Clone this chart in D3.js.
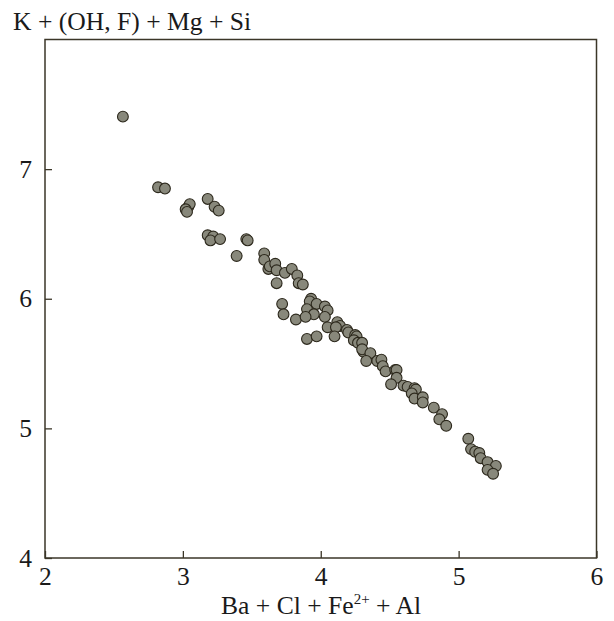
<!DOCTYPE html>
<html>
<head>
<meta charset="utf-8">
<script src="https://cdn.jsdelivr.net/npm/d3@7"></script>
<style>
  html, body { margin: 0; padding: 0; background: #fff; }
  svg, svg text { font-family: "Liberation Serif", Tinos, "Times New Roman", Times, "Nimbus Roman", FreeSerif, serif !important; }
</style>
</head>
<body>
<svg id="chart" width="614" height="621"></svg>
<script>
// Ba + Cl + Fe2+ + Al (x) against K + (OH, F) + Mg + Si (y), one entry per analysis
const sumBaClFeAl = [
  2.565, 2.82, 2.87, 3.04, 3.05, 3.02, 3.03, 3.18, 3.23, 3.26,
  3.18, 3.22, 3.20, 3.27, 3.46, 3.47, 3.39,
  3.59, 3.59, 3.62, 3.63, 3.67, 3.68, 3.74, 3.79, 3.83, 3.68, 3.84, 3.87,
  3.72, 3.73, 3.82,
  3.93, 3.92, 3.97, 3.90, 3.95, 3.89, 4.03, 4.05, 4.03, 4.12, 4.05, 4.14, 4.11, 4.19, 4.20, 4.10, 3.90, 3.97,
  4.25, 4.26, 4.24, 4.27, 4.30, 4.31, 4.30, 4.36, 4.33, 4.41, 4.44, 4.45, 4.47, 4.54, 4.55,
  4.55, 4.51, 4.60, 4.63, 4.68, 4.69, 4.66, 4.68, 4.74, 4.74, 4.82, 4.88, 4.86, 4.91,
  5.07, 5.09, 5.12, 5.15, 5.16, 5.21, 5.27, 5.21, 5.25
];
const sumKOHFMgSi = [
  7.405, 6.86, 6.85, 6.71, 6.73, 6.69, 6.67, 6.77, 6.71, 6.68,
  6.49, 6.48, 6.45, 6.46, 6.46, 6.45, 6.33,
  6.35, 6.30, 6.23, 6.25, 6.27, 6.22, 6.20, 6.23, 6.18, 6.12, 6.12, 6.11,
  5.96, 5.88, 5.84,
  6.00, 5.98, 5.96, 5.92, 5.88, 5.86, 5.94, 5.91, 5.86, 5.82, 5.78, 5.79, 5.78, 5.76, 5.74, 5.71, 5.69, 5.71,
  5.72, 5.71, 5.68, 5.66, 5.66, 5.59, 5.61, 5.58, 5.52, 5.52, 5.53, 5.48, 5.44, 5.45, 5.45,
  5.39, 5.34, 5.33, 5.32, 5.31, 5.30, 5.27, 5.23, 5.24, 5.20, 5.16, 5.11, 5.07, 5.02,
  4.92, 4.84, 4.82, 4.81, 4.77, 4.74, 4.71, 4.68, 4.65
];
const xTickValues = [2, 3, 4, 5, 6];
const yTickValues = [4, 5, 6, 7];

const points = sumBaClFeAl.map((x, i) => ({ x, y: sumKOHFMgSi[i] }));

const serif = '"Liberation Serif", Tinos, "Times New Roman", Times, serif';
const svg = d3.select("#chart").attr("font-family", serif);
const frame = { left: 45, right: 596.5, top: 39.5, bottom: 558 };
const axisColor = "#3b3628";
const textColor = "#1a1a1a";
const fontSize = 25.6;

const x = d3.scaleLinear().domain([2, 6]).range([frame.left, frame.right]);
const y = d3.scaleLinear().domain([4, 8]).range([frame.bottom, frame.top]);

// points first, frame and ticks on top
svg.append("g")
  .selectAll("circle")
  .data(points)
  .join("circle")
  .attr("cx", d => x(d.x))
  .attr("cy", d => y(d.y))
  .attr("r", 5.4)
  .attr("fill", "#88887b")
  .attr("stroke", "#2c281c")
  .attr("stroke-width", 1.1);

svg.append("rect")
  .attr("x", frame.left)
  .attr("y", frame.top)
  .attr("width", frame.right - frame.left)
  .attr("height", frame.bottom - frame.top)
  .attr("fill", "none")
  .attr("stroke", axisColor)
  .attr("stroke-width", 1.5);

// x axis: inward ticks, labels below
const xAxis = svg.append("g")
  .attr("transform", `translate(0,${frame.bottom})`)
  .call(d3.axisBottom(x).tickValues(xTickValues).tickFormat(d3.format("d")).tickSizeInner(-7).tickSizeOuter(0).tickPadding(9));
xAxis.attr("font-family", serif);
xAxis.select(".domain").remove();
xAxis.selectAll(".tick line").attr("stroke", axisColor).attr("stroke-width", 1.3);
xAxis.selectAll(".tick text").attr("font-size", fontSize).attr("font-family", serif).attr("fill", textColor);

// y axis: inward ticks, labels to the left
const yAxis = svg.append("g")
  .attr("transform", `translate(${frame.left},0)`)
  .call(d3.axisLeft(y).tickValues(yTickValues).tickFormat(d3.format("d")).tickSizeInner(-7).tickSizeOuter(0).tickPadding(13));
yAxis.attr("font-family", serif);
yAxis.select(".domain").remove();
yAxis.selectAll(".tick line").attr("stroke", axisColor).attr("stroke-width", 1.3);
yAxis.selectAll(".tick text").attr("font-size", fontSize).attr("font-family", serif).attr("fill", textColor);

// axis titles
svg.append("text")
  .attr("x", 13)
  .attr("y", 30)
  .attr("font-size", fontSize)
  .attr("font-family", serif)
  .attr("fill", textColor)
  .text("K + (OH, F) + Mg + Si");

const xTitle = svg.append("text")
  .attr("x", 321)
  .attr("y", 614)
  .attr("text-anchor", "middle")
  .attr("font-size", fontSize)
  .attr("font-family", serif)
  .attr("fill", textColor);
xTitle.append("tspan").text("Ba + Cl + Fe");
xTitle.append("tspan").attr("font-size", 15).attr("dy", -10).text("2+");
xTitle.append("tspan").attr("dy", 10).text(" + Al");
</script>
</body>
</html>
